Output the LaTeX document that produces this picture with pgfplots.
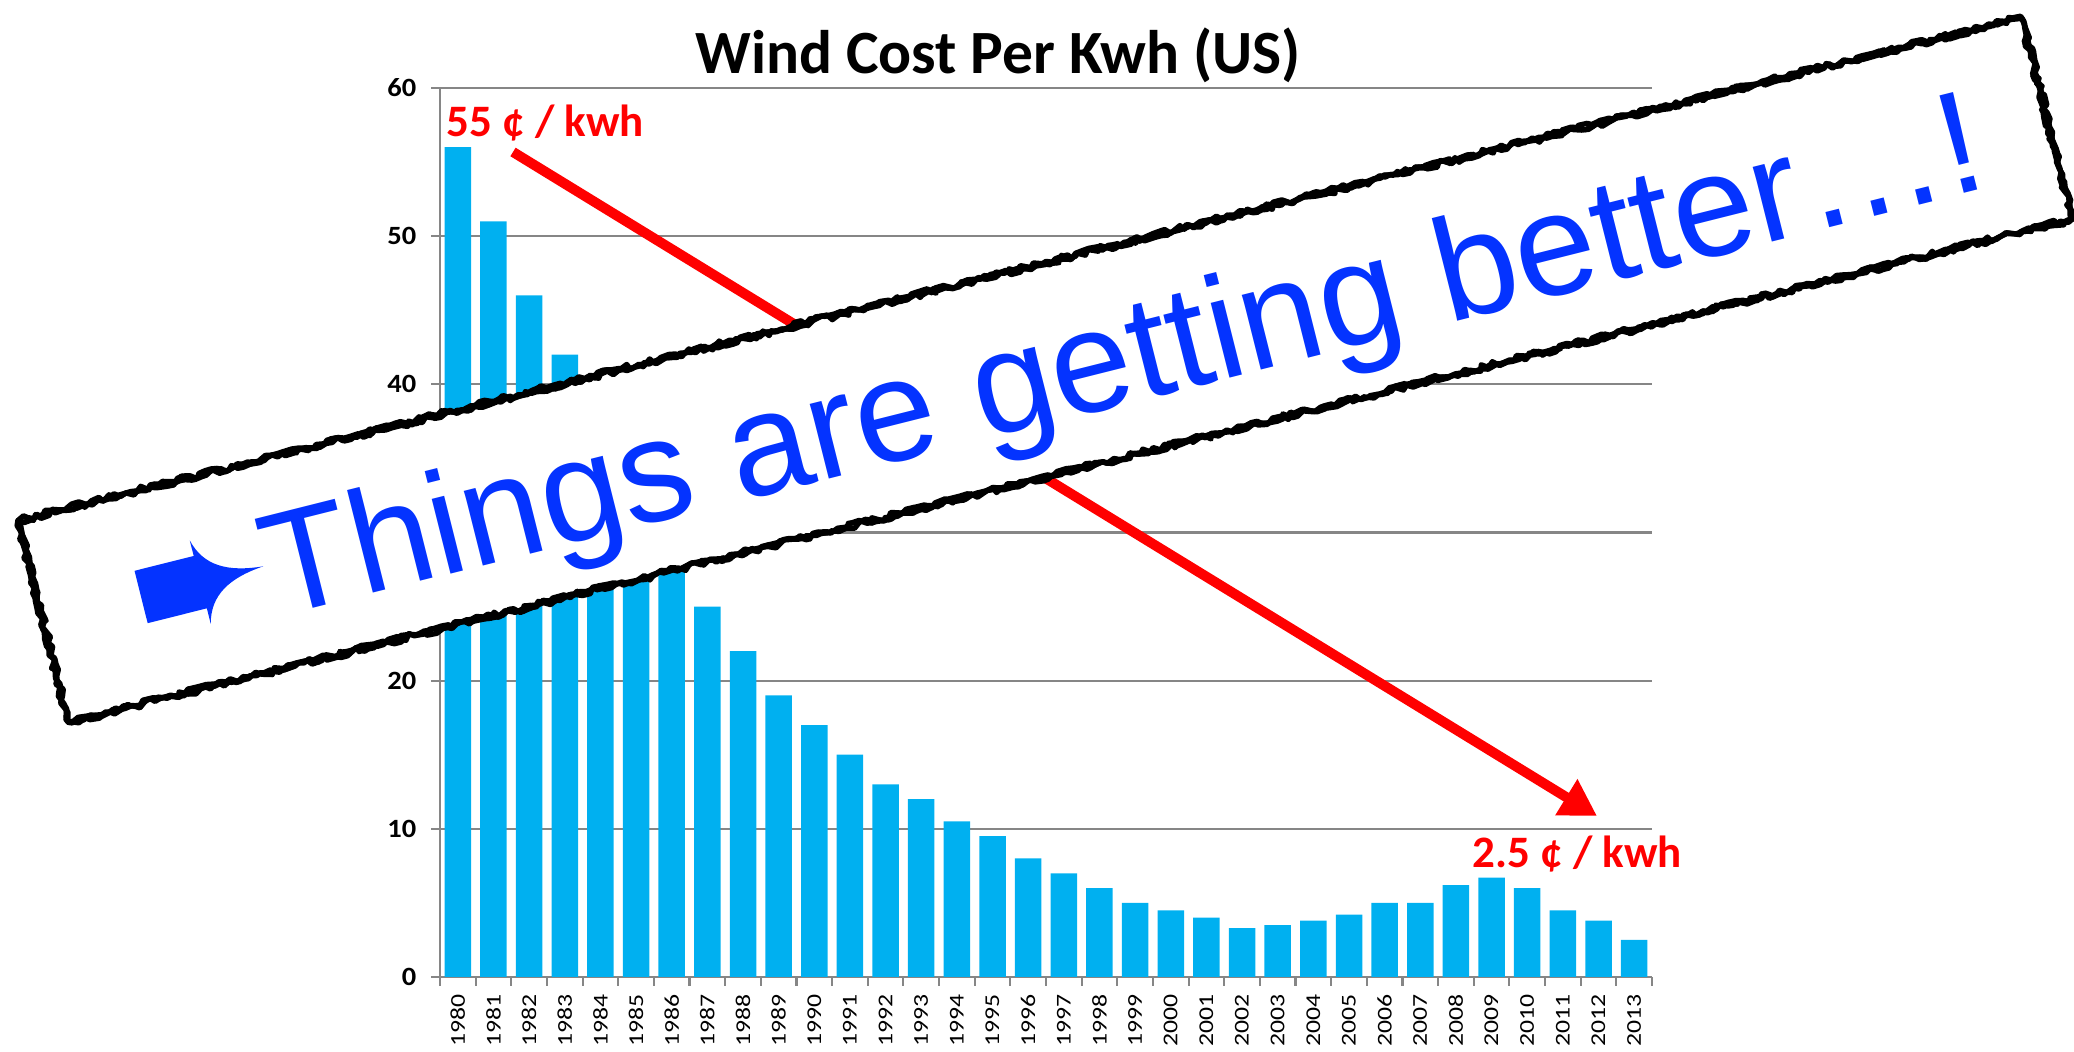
\documentclass[border=0pt]{standalone}
\usepackage{graphicx}
\usepackage{pgfplots}
\pgfplotsset{compat=1.18}
\usepackage{fontspec}
\setmainfont{Carlito}
\newfontfamily\bannerfont{Liberation Sans}
\usetikzlibrary{arrows.meta,decorations.pathmorphing}
\definecolor{barblue}{RGB}{0,176,240}
\definecolor{gridgray}{RGB}{134,134,134}
\definecolor{bannerblue}{RGB}{4,51,255}
\begin{document}
\begin{tikzpicture}
\pgfmathsetseed{7}
\path[use as bounding box] (0,0) rectangle (20.74,10.52);
\begin{axis}[
  at={(4.40cm,0.75cm)}, anchor=south west,
  scale only axis, width=12.12cm, height=8.89cm,
  xmin=1979.5, xmax=2013.5, ymin=0, ymax=60,
  ybar, bar width=0.265cm,
  axis x line*=bottom, axis y line*=left,
  axis line style={gridgray, line width=0.6pt},
  ytick={0,10,...,60},
  xtick={1980,...,2013},
  minor xtick={1979.5,1980.5,...,2013.5},
  every major x tick/.append style={draw=none},
  tick align=outside,
  major tick length=0.09cm, minor tick length=0.09cm,
  tick style={gridgray, line width=0.6pt},
  ymajorgrids, major grid style={gridgray, line width=0.6pt},
  /pgf/number format/assume math mode=true,
  /pgf/number format/1000 sep={},
  xticklabel={\scalebox{1.22}[1]{\pgfmathprintnumber{\tick}}},
  yticklabel={\scalebox{1.08}[1]{\pgfmathprintnumber{\tick}}},
  yticklabel style={font=\fontsize{7.5}{9}\selectfont\bfseries, text=black, inner sep=0pt},
  xticklabel style={font=\fontsize{6}{7}\selectfont, rotate=90, anchor=east, text=black, inner sep=0pt},
  xticklabel shift=0.08cm, yticklabel shift=0.14cm,
]
\addplot[fill=barblue, draw=none] coordinates {
(1980,56) (1981,51) (1982,46) (1983,42) (1984,38) (1985,34) (1986,30)
(1987,25) (1988,22) (1989,19) (1990,17) (1991,15) (1992,13) (1993,12)
(1994,10.5) (1995,9.5) (1996,8) (1997,7) (1998,6) (1999,5) (2000,4.5)
(2001,4) (2002,3.3) (2003,3.5) (2004,3.8) (2005,4.2) (2006,5) (2007,5)
(2008,6.2) (2009,6.7) (2010,6) (2011,4.5) (2012,3.8) (2013,2.5)
};
\end{axis}
% title
\node[anchor=base, inner sep=0, font=\fontsize{17.5}{20}\selectfont\bfseries] at (9.98,9.78) {Wind Cost Per Kwh (US)};
% red annotations
\draw[red, line width=2.85pt, -{Triangle[length=0.36cm,width=0.40cm]}] (5.13,9.00) -- (15.97,2.36);
\node[anchor=base west, inner sep=0, text=red, font=\fontsize{12.8}{15}\selectfont\bfseries] at (4.46,9.15) {55 ¢ / kwh};
\node[anchor=base west, inner sep=0, text=red, font=\fontsize{12.8}{15}\selectfont\bfseries] at (14.72,1.84) {2.5 ¢ / kwh};
% banner
\begin{scope}[shift={(10.45,6.82)}, rotate=14.1]
\fill[white] (-10.33,-1.04) rectangle (10.33,1.04);
\foreach \s in {1,2,3}{
  \draw[decorate, decoration={random steps, segment length=1.8pt, amplitude=1.0pt}, line width=1.5pt, line join=round]
    (-10.33,-1.04) rectangle (10.33,1.04);
}
\fill[bannerblue] (-9.32,-0.27) -- (-8.71,-0.27) -- (-8.71,-0.43)
  .. controls (-8.64,-0.15) and (-8.42,-0.03) .. (-8.06,0)
  .. controls (-8.42,0.03) and (-8.64,0.15) .. (-8.71,0.43)
  -- (-8.71,0.27) -- (-9.32,0.27) -- cycle;
\node[transform shape, anchor=base west, inner sep=0, text=bannerblue, font=\bannerfont\fontsize{41.5}{48}\selectfont] at (-8.06,-0.53)
  {Things are getting better…!};
\end{scope}
\end{tikzpicture}
\end{document}
